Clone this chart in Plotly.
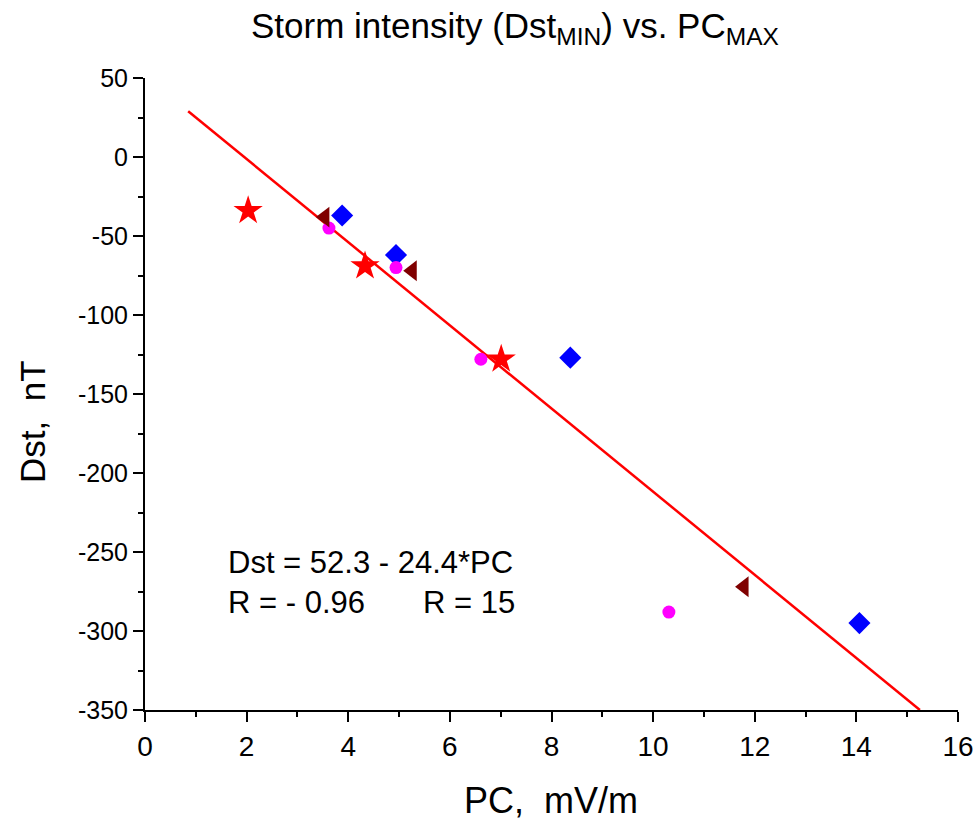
import plotly.graph_objects as go

# Data
star_x = [2.03, 4.33, 7.01]
star_y = [-34, -69, -128]
diamond_x = [3.88, 4.94, 8.37, 14.06]
diamond_y = [-37, -62, -127, -295]
circle_x = [3.62, 4.94, 6.61, 10.31]
circle_y = [-45, -70, -128, -288]
tri_x = [3.54, 5.26, 11.79]
tri_y = [-38, -72, -272]
fit_x = [0.85, 15.25]
fit_y = [29, -350]

x_ticks = [0, 2, 4, 6, 8, 10, 12, 14, 16]
x_ticktext = ["0", "2", "4", "6", "8", "10", "12", "14", "16"]
y_ticks = [50, 0, -50, -100, -150, -200, -250, -300, -350]
y_ticktext = ["50", "0", "-50", "-100", "-150", "-200", "-250", "-300", "-350"]

FONT = "Liberation Sans, Arial, sans-serif"

L, R, T, B = 145, 958, 78, 710


def px(xp):
    return (xp - L) / (R - L)


def py(yp):
    return (B - yp) / (B - T)


fig = go.Figure()
fig.add_trace(go.Scatter(x=fit_x, y=fit_y, mode="lines",
                         line=dict(color="#ff0000", width=2.5), showlegend=False))
fig.add_trace(go.Scatter(x=star_x, y=star_y, mode="markers",
                         marker=dict(symbol="star", size=22, color="#ff0000", line=dict(width=0)),
                         showlegend=False))
fig.add_trace(go.Scatter(x=diamond_x, y=diamond_y, mode="markers",
                         marker=dict(symbol="diamond", size=17, color="#0000ff", line=dict(width=0)),
                         showlegend=False))
fig.add_trace(go.Scatter(x=circle_x, y=circle_y, mode="markers",
                         marker=dict(symbol="circle", size=13, color="#ff00ff", line=dict(width=0)),
                         showlegend=False))
fig.add_trace(go.Scatter(x=tri_x, y=tri_y, mode="markers",
                         marker=dict(symbol="triangle-left", size=18, color="#800000", line=dict(width=0)),
                         showlegend=False))

fig.update_layout(
    width=980, height=825,
    margin=dict(l=L, r=980 - R, t=T, b=825 - B, autoexpand=False),
    paper_bgcolor="white", plot_bgcolor="white",
    font=dict(family=FONT, color="black"),
    xaxis=dict(range=[0, 16], tickvals=x_ticks, ticktext=x_ticktext, ticks="outside", ticklen=10, tickwidth=2,
               tickcolor="black", automargin=False,
               showline=True, linecolor="black", linewidth=2, showgrid=False, zeroline=False,
               tickfont=dict(size=28, family=FONT), ticklabelstandoff=0,
               minor=dict(ticks="outside", dtick=1, ticklen=5, tickwidth=2, tickcolor="black")),
    yaxis=dict(range=[-350, 50], tickvals=y_ticks, ticktext=y_ticktext, ticks="outside", ticklen=10, tickwidth=2,
               tickcolor="black", automargin=False,
               showline=True, linecolor="black", linewidth=2, showgrid=False, zeroline=False,
               tickfont=dict(size=25, family=FONT),
               minor=dict(ticks="outside", dtick=25, ticklen=5, tickwidth=2, tickcolor="black")),
    annotations=[
        dict(text="Storm intensity (Dst<sub>MIN</sub>) vs. PC<sub>MAX</sub>", xref="paper", yref="paper",
             x=px(515), y=py(28), xanchor="center", yanchor="middle",
             showarrow=False, font=dict(size=35, family=FONT)),
        dict(text="PC,&nbsp;&nbsp;mV/m", xref="paper", yref="paper",
             x=px(551), y=py(800), xanchor="center", yanchor="middle",
             showarrow=False, font=dict(size=36, family=FONT)),
        dict(text="Dst,&nbsp;&nbsp;nT", xref="paper", yref="paper", textangle=-90,
             x=px(32), y=py(422), xanchor="center", yanchor="middle",
             showarrow=False, font=dict(size=35, family=FONT)),
        dict(text="Dst = 52.3 - 24.4*PC", xref="paper", yref="paper",
             x=px(226), y=py(562), xanchor="left", yanchor="middle",
             showarrow=False, font=dict(size=31, family=FONT)),
        dict(text="R = - 0.96", xref="paper", yref="paper",
             x=px(226), y=py(602), xanchor="left", yanchor="middle",
             showarrow=False, font=dict(size=31, family=FONT)),
        dict(text="R = 15", xref="paper", yref="paper",
             x=px(421), y=py(602), xanchor="left", yanchor="middle",
             showarrow=False, font=dict(size=31, family=FONT)),
    ],
)

fig.write_html("out.html")
